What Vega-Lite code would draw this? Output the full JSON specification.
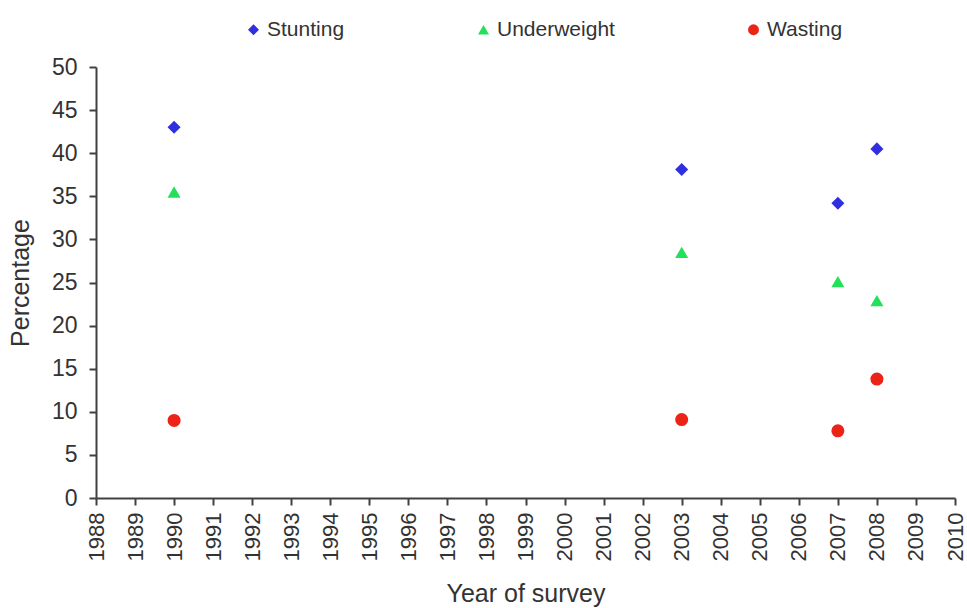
{
  "$schema": "https://vega.github.io/schema/vega-lite/v6.json",
  "autosize": "none",
  "padding": {"left": 96, "top": 67, "right": 12, "bottom": 110},
  "width": 859,
  "height": 431,
  "background": "white",
  "config": {
    "font": "Liberation Sans",
    "view": {"stroke": null},
    "axis": {
      "grid": false,
      "domainColor": "#404040",
      "domainWidth": 2,
      "tickColor": "#404040",
      "tickWidth": 2,
      "tickSize": 7,
      "labelColor": "#333333",
      "titleColor": "#333333",
      "labelFontSize": 23,
      "titleFontSize": 25,
      "titleFontWeight": "normal",
      "labelFont": "Liberation Sans",
      "titleFont": "Liberation Sans"
    }
  },
  "data": {
    "values": [
      {"year": 1990, "series": "Stunting", "value": 43.0},
      {"year": 2003, "series": "Stunting", "value": 38.1},
      {"year": 2007, "series": "Stunting", "value": 34.2},
      {"year": 2008, "series": "Stunting", "value": 40.5},
      {"year": 1990, "series": "Underweight", "value": 35.5},
      {"year": 2003, "series": "Underweight", "value": 28.5},
      {"year": 2007, "series": "Underweight", "value": 25.1},
      {"year": 2008, "series": "Underweight", "value": 22.9},
      {"year": 1990, "series": "Wasting", "value": 9.0},
      {"year": 2003, "series": "Wasting", "value": 9.1},
      {"year": 2007, "series": "Wasting", "value": 7.8},
      {"year": 2008, "series": "Wasting", "value": 13.8}
    ]
  },
  "mark": {"type": "point", "filled": true, "opacity": 1, "size": 170},
  "encoding": {
    "x": {
      "field": "year",
      "type": "quantitative",
      "scale": {"domain": [1988, 2010], "nice": false, "zero": false},
      "axis": {
        "title": "Year of survey",
        "values": [1988, 1989, 1990, 1991, 1992, 1993, 1994, 1995, 1996, 1997, 1998, 1999, 2000, 2001, 2002, 2003, 2004, 2005, 2006, 2007, 2008, 2009, 2010],
        "format": "d",
        "labelAngle": -90,
        "labelFontSize": 22,
        "labelPadding": 7,
        "labelOverlap": false,
        "titlePadding": 21
      }
    },
    "y": {
      "field": "value",
      "type": "quantitative",
      "scale": {"domain": [0, 50], "nice": false},
      "axis": {
        "title": "Percentage",
        "values": [0, 5, 10, 15, 20, 25, 30, 35, 40, 45, 50],
        "labelPadding": 12,
        "titlePadding": 18
      }
    },
    "color": {
      "field": "series",
      "type": "nominal",
      "scale": {"domain": ["Stunting", "Underweight", "Wasting"], "range": ["#2f2fe0", "#22e05a", "#ec2418"]},
      "legend": {
        "title": null,
        "orient": "none",
        "direction": "horizontal",
        "legendX": 147,
        "legendY": -48,
        "padding": 0,
        "symbolSize": 120,
        "symbolStrokeWidth": 0,
        "labelOffset": 3,
        "labelFontSize": 21,
        "labelColor": "#333333",
        "labelFont": "Liberation Sans",
        "columnPadding": 128
      }
    },
    "shape": {
      "field": "series",
      "type": "nominal",
      "scale": {"domain": ["Stunting", "Underweight", "Wasting"], "range": ["diamond", "triangle-up", "circle"]}
    }
  }
}
